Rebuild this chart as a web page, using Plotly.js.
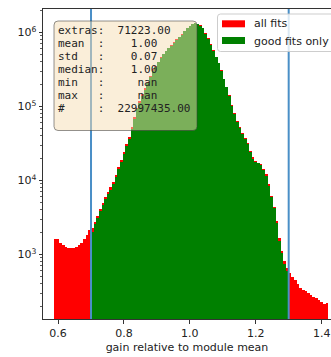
<!DOCTYPE html>
<html>
<head>
<meta charset="utf-8">
<script src="https://cdn.plot.ly/plotly-3.0.1.min.js"></script>
<style>html,body{margin:0;padding:0;background:#fff;}#chart{width:331px;height:357px;}</style>
</head>
<body>
<div id="chart"></div>
<script>
// histogram bins: edges start at 0.588, width 0.008
var binStart = 0.588;
var binWidth = 0.008;

var allFits = [1610,1590,1435,1324,1244,1220,1216,1224,1262,1319,1429,1611,1853,2099,
2266,2756,3294,4133,4978,5943,6993,8017,9423,11795,15137,18804,24107,30953,38467,52480,
71614,95940,118000,145300,175000,213000,259000,317000,348000,401000,459000,512000,561000,
620000,667000,733000,802000,869000,946000,1052000,1147000,1232000,1307000,1356000,1314000,
1247000,1147000,972000,828000,693000,577000,470000,386000,308000,236000,184600,142200,
103300,80000,63700,52700,43850,37050,31550,24740,20380,18350,17400,16560,14350,12020,8830,
6195,4397,2818,1637,1115,814,645,
558,501,449,403,356,332,315,298,283,267,253,238,227,216,220];

var goodFits = [null,null,null,null,null,null,null,null,null,null,null,null,null,null,
2000,2530,3050,3830,4620,5520,6520,7480,8800,11000,14100,17600,22600,29000,36200,49500,
67800,91000,112000,139000,168000,205000,250000,300000,338000,392000,450000,503000,552000,
610000,657000,722000,791000,857000,933000,1038000,1132000,1216000,1290000,1339000,1297000,
1230000,1130000,958000,815000,665000,567000,462000,379000,302000,231000,180500,139000,
101000,78000,62000,51200,42600,35900,30500,23900,19700,17800,16900,16000,13800,11600,8500,
5950,4200,2680,1520,1030,740,590,
null,null,null,null,null,null,null,null,null,null,null,null,null,null,null];

var cutLines = [0.7, 1.3];
var seriesNames = ['all fits', 'good fits only'];
var seriesColors = ['#ff0000', '#008000'];

var statLines = [
  'extras:  71223.00',
  'mean  :    1.00',
  'std   :    0.07',
  'median:    1.00',
  'min   :     nan',
  'max   :     nan',
  '#     :  22997435.00'
];

var yTickVals = [1e3, 1e4, 1e5, 1e6];
var yTickText = ['10<sup>3</sup>', '10<sup>4</sup>', '10<sup>5</sup>', '10<sup>6</sup>'];
var xTickVals = [0.6, 0.8, 1.0, 1.2, 1.4];
var xTickText = ['0.6', '0.8', '1.0', '1.2', '1.4'];

var centers = allFits.map(function(_, i){ return binStart + binWidth * (i + 0.5); });

var minorVals = [];
[100, 1000, 10000, 100000, 1000000].forEach(function(d){
  for (var k = 2; k <= 9; k++) minorVals.push(k * d);
});

// pixel helpers (plot area: x 43..331, y 9..319)
var L = 43, W = 288, T = 9, H = 310;
function px(x){ return (x - L) / W; }
function py(y){ return (T + H - y) / H; }
function roundRect(x0, y0, x1, y1, r){
  var rx = r / W, ry = r / H;
  var a = px(x0), b = px(x1), c = py(y1), d = py(y0);
  return 'M' + (a+rx) + ',' + d + ' L' + (b-rx) + ',' + d + ' Q' + b + ',' + d + ' ' + b + ',' + (d-ry) +
    ' L' + b + ',' + (c+ry) + ' Q' + b + ',' + c + ' ' + (b-rx) + ',' + c +
    ' L' + (a+rx) + ',' + c + ' Q' + a + ',' + c + ' ' + a + ',' + (c+ry) +
    ' L' + a + ',' + (d-ry) + ' Q' + a + ',' + d + ' ' + (a+rx) + ',' + d + ' Z';
}

var traces = [
  {type:'bar', x:centers, y:allFits, width:binWidth, name:seriesNames[0],
   marker:{color:seriesColors[0], line:{width:0}}, hoverinfo:'skip'},
  {type:'bar', x:centers, y:goodFits, width:binWidth, name:seriesNames[1],
   marker:{color:seriesColors[1], line:{width:0}}, hoverinfo:'skip'}
];

var shapes = [];
cutLines.forEach(function(v){
  shapes.push({type:'line', xref:'x', yref:'paper', x0:v, x1:v, y0:0, y1:1,
    line:{color:'#4a8fc7', width:2}, layer:'above'});
});
shapes.push({type:'path', xref:'paper', yref:'paper', path:roundRect(54, 21, 197, 130.5, 4),
  fillcolor:'rgba(245,222,179,0.5)', line:{color:'rgba(60,60,60,0.55)', width:1}, layer:'above'});
shapes.push({type:'path', xref:'paper', yref:'paper', path:roundRect(217.5, 14, 340, 51.5, 3),
  fillcolor:'rgba(255,255,255,0.8)', line:{color:'rgba(200,200,200,0.9)', width:1}, layer:'above'});
shapes.push({type:'rect', xref:'paper', yref:'paper', x0:px(222), x1:px(245), y0:py(27.3), y1:py(20.3),
  fillcolor:seriesColors[0], line:{width:0}, layer:'above'});
shapes.push({type:'rect', xref:'paper', yref:'paper', x0:px(222), x1:px(245), y0:py(44), y1:py(37),
  fillcolor:seriesColors[1], line:{width:0}, layer:'above'});

var annotations = [];
statLines.forEach(function(s, i){
  annotations.push({xref:'paper', yref:'paper', x:px(55.5), y:py(30 + 13.05 * i),
    xanchor:'left', yanchor:'middle', showarrow:false, align:'left',
    text:s,
    font:{family:'DejaVu Sans Mono, monospace', size:11, color:'#222'}});
});
annotations.push({xref:'paper', yref:'paper', x:px(252), y:py(24), xanchor:'left', yanchor:'middle',
  showarrow:false, text:seriesNames[0], font:{family:'DejaVu Sans', size:11, color:'#222'}});
annotations.push({xref:'paper', yref:'paper', x:px(252), y:py(41), xanchor:'left', yanchor:'middle',
  showarrow:false, text:seriesNames[1], font:{family:'DejaVu Sans', size:11, color:'#222'}});

var layout = {
  width:331, height:357,
  margin:{l:43, r:0, t:9, b:38},
  paper_bgcolor:'#fff', plot_bgcolor:'#fff',
  barmode:'overlay', bargap:0, showlegend:false,
  font:{family:'DejaVu Sans', size:11, color:'#222'},
  xaxis:{range:[0.5543, 1.4284], showgrid:false, zeroline:false,
    showline:true, linecolor:'#333', linewidth:1, mirror:true,
    ticks:'outside', ticklen:3.5, tickcolor:'#333', tickwidth:1,
    tickmode:'array', tickvals:xTickVals, ticktext:xTickText,
    tickfont:{family:'DejaVu Sans', size:11, color:'#222'},
    title:{text:'gain relative to module mean', font:{family:'DejaVu Sans', size:11, color:'#222'}, standoff:4}},
  yaxis:{type:'log', range:[2.126, 6.315], showgrid:false, zeroline:false,
    showline:true, linecolor:'#333', linewidth:1, mirror:false,
    ticks:'outside', ticklen:3.5, tickcolor:'#333', tickwidth:1,
    tickmode:'array', tickvals:yTickVals, ticktext:yTickText,
    tickfont:{family:'DejaVu Sans', size:11, color:'#222'},
    minor:{tickmode:'array', tickvals:minorVals, ticks:'outside', ticklen:2, tickcolor:'#333', tickwidth:0.8, showgrid:false}},
  shapes:shapes,
  annotations:annotations
};

Plotly.newPlot('chart', traces, layout, {staticPlot:true, displayModeBar:false});
</script>
</body>
</html>
